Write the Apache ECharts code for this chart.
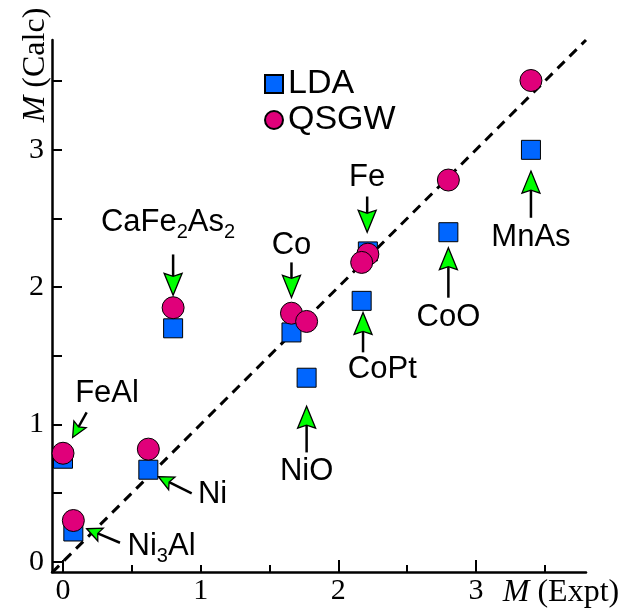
<!DOCTYPE html>
<html>
<head>
<meta charset="utf-8">
<script src="https://cdn.jsdelivr.net/npm/echarts@6/dist/echarts.min.js"></script>
<style>
  html, body { margin: 0; padding: 0; background: #fff; }
  #chart { width: 635px; height: 612px; }
</style>
</head>
<body>
<div id="chart"></div>
<script>
// Magnetic moments: experiment vs. LDA and QSGW calculations
const materials = ['MnAs', 'CoO', 'Fe', 'CoPt', 'Co', 'NiO', 'CaFe2As2', 'FeAl', 'Ni', 'Ni3Al'];
const exptM = [3.40, 2.80, 2.215, 2.17, 1.66, 1.77, 0.80, 0.00, 0.62, 0.075];
const ldaM  = [3.00, 2.40, 2.26, 1.90, 1.67, 1.34, 1.70, 0.75, 0.67, 0.22];
const qsgwM = [3.505, 2.78, 2.24, 2.18, 1.81, 1.75, 1.85, 0.79, 0.82, 0.30];

// Annotation text (rich-text markup for subscripts) and its anchor in data units
const labelText = ['MnAs', 'CoO', 'Fe', 'CoPt', 'Co', 'NiO', 'CaFe{s|2}As{s|2}', 'FeAl', 'Ni', 'Ni{s|3}Al'];
const labelX = [3.40, 2.80, 2.21, 2.32, 1.66, 1.77, 0.763, 0.32, 1.087, 0.716];
const labelY = [2.36, 1.777, 2.80, 1.40, 2.30, 0.66, 2.471, 1.226, 0.49, 0.114];

// Pointer arrows: [tailX, tailY, tipX, tipY]
const pointerArrows = [
  [3.40, 2.505, 3.40, 2.845],
  [2.80, 1.923, 2.80, 2.287],
  [2.21, 2.66, 2.21, 2.40],
  [2.18, 1.525, 2.18, 1.816],
  [1.66, 2.18, 1.66, 1.925],
  [1.77, 0.796, 1.77, 1.133],
  [0.80, 2.238, 0.80, 1.94]
];
const sideArrows = [
  [0.172, 1.087, 0.07, 0.905],
  [0.935, 0.497, 0.693, 0.619],
  [0.414, 0.138, 0.172, 0.24]
];

// y = x reference line
const diagonal = [[-0.08, -0.08], [3.8, 3.8]];

// Axis ticks and labels
const tickValues = [0, 0.5, 1, 1.5, 2, 2.5, 3, 3.5];
const xLongTicks = [0, 2, 3];
const tickLabels = [0, 1, 2, 3];

const AX_MIN_X = -0.08, AX_MAX_X = 3.8;
const AX_MIN_Y = -0.075, AX_MAX_Y = 3.8;

const SERIF = 'Liberation Serif';
const SANS = 'Liberation Sans';

function arrowRenderer(headLen, headWidth) {
  return function (params, api) {
    const a = api.coord([api.value(0), api.value(1)]);
    const b = api.coord([api.value(2), api.value(3)]);
    const dx = b[0] - a[0], dy = b[1] - a[1];
    const len = Math.hypot(dx, dy);
    const ux = dx / len, uy = dy / len;
    const px = -uy, py = ux;
    const bx = b[0] - ux * headLen, by = b[1] - uy * headLen;
    const notch = 3;
    return {
      type: 'group',
      children: [
        {
          type: 'line',
          shape: { x1: a[0], y1: a[1], x2: bx + ux * notch, y2: by + uy * notch },
          style: { stroke: '#000', lineWidth: 2.5 }
        },
        {
          type: 'polygon',
          shape: {
            points: [
              [b[0], b[1]],
              [bx + px * headWidth / 2, by + py * headWidth / 2],
              [bx + ux * notch, by + uy * notch],
              [bx - px * headWidth / 2, by - py * headWidth / 2]
            ]
          },
          style: { fill: '#00FF00', stroke: '#000', lineWidth: 1.3, lineJoin: 'miter' }
        }
      ]
    };
  };
}

const chart = echarts.init(document.getElementById('chart'), null, { renderer: 'canvas' });

const axisLineStyle = { color: '#000', width: 2.5 };

chart.setOption({
  animation: false,
  backgroundColor: '#fff',
  grid: { left: 52, top: 40, width: 534, height: 532 },
  legend: {
    orient: 'vertical',
    left: 259,
    top: 62,
    itemWidth: 18,
    itemHeight: 18,
    itemGap: 2,
    data: ['LDA', 'QSGW'],
    textStyle: { fontFamily: SANS, fontSize: 34, color: '#000' }
  },
  xAxis: [
    {
      type: 'value',
      min: AX_MIN_X,
      max: AX_MAX_X,
      splitLine: { show: false },
      axisLine: { onZero: false, lineStyle: axisLineStyle },
      axisTick: { inside: true, length: 7, customValues: tickValues, lineStyle: { color: '#000', width: 2 } },
      axisLabel: { customValues: tickLabels, fontFamily: SERIF, fontSize: 30, color: '#000', margin: 4 }
    },
    {
      type: 'value',
      position: 'bottom',
      min: AX_MIN_X,
      max: AX_MAX_X,
      splitLine: { show: false },
      axisLine: { show: false, onZero: false },
      axisTick: { inside: true, length: 12, customValues: xLongTicks, lineStyle: { color: '#000', width: 2 } },
      axisLabel: { show: false }
    }
  ],
  yAxis: {
    type: 'value',
    min: AX_MIN_Y,
    max: AX_MAX_Y,
    splitLine: { show: false },
    axisLine: { onZero: false, lineStyle: axisLineStyle },
    axisTick: { inside: true, length: 10, customValues: tickValues, lineStyle: { color: '#000', width: 2 } },
    axisLabel: { customValues: tickLabels, fontFamily: SERIF, fontSize: 30, color: '#000', margin: 8 }
  },
  graphic: [
    {
      type: 'text',
      x: 36,
      y: 65,
      rotation: Math.PI / 2,
      style: {
        text: '{i|M} (Calc)',
        fontFamily: SERIF,
        fontSize: 32,
        fill: '#000',
        align: 'center',
        verticalAlign: 'middle',
        rich: { i: { fontFamily: SERIF, fontSize: 32, fontStyle: 'italic', fill: '#000' } }
      }
    },
    {
      type: 'text',
      x: 561,
      y: 593,
      style: {
        text: '{i|M} (Expt)',
        fontFamily: SERIF,
        fontSize: 32,
        fill: '#000',
        align: 'center',
        verticalAlign: 'middle',
        rich: { i: { fontFamily: SERIF, fontSize: 32, fontStyle: 'italic', fill: '#000' } }
      }
    }
  ],
  series: [
    {
      name: 'y = x',
      type: 'line',
      data: diagonal,
      showSymbol: false,
      silent: true,
      z: 1,
      lineStyle: { color: '#000', width: 3, type: [10, 7] }
    },
    {
      name: 'LDA',
      type: 'scatter',
      z: 3,
      symbol: 'rect',
      symbolSize: 19,
      data: exptM.map((x, i) => [x, ldaM[i]]),
      itemStyle: { color: '#0066FF', borderColor: '#000', borderWidth: 1, opacity: 1 }
    },
    {
      name: 'QSGW',
      type: 'scatter',
      z: 4,
      symbol: 'circle',
      symbolSize: 22,
      data: exptM.map((x, i) => [x, qsgwM[i]]),
      itemStyle: { color: '#E0007A', borderColor: '#000', borderWidth: 1, opacity: 1 }
    },
    {
      name: 'pointers',
      type: 'custom',
      z: 5,
      silent: true,
      data: pointerArrows,
      encode: { x: [0, 2], y: [1, 3] },
      renderItem: arrowRenderer(22, 18)
    },
    {
      name: 'side pointers',
      type: 'custom',
      z: 5,
      silent: true,
      data: sideArrows,
      encode: { x: [0, 2], y: [1, 3] },
      renderItem: arrowRenderer(15, 14)
    },
    {
      name: 'labels',
      type: 'custom',
      z: 6,
      silent: true,
      data: labelX.map((x, i) => [x, labelY[i]]),
      renderItem: function (params, api) {
        const p = api.coord([api.value(0), api.value(1)]);
        return {
          type: 'text',
          x: p[0],
          y: p[1],
          style: {
            text: labelText[params.dataIndex],
            fontFamily: SANS,
            fontSize: 31,
            lineHeight: 40,
            fill: '#000',
            align: 'center',
            verticalAlign: 'middle',
            rich: {
              s: { fontFamily: SANS, fontSize: 20, lineHeight: 20, verticalAlign: 'bottom', fill: '#000' }
            }
          }
        };
      }
    }
  ]
});
</script>
</body>
</html>
